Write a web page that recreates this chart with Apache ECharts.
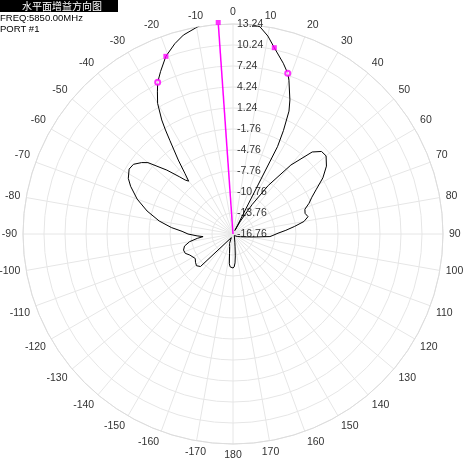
<!DOCTYPE html>
<html>
<head>
<meta charset="utf-8">
<script src="https://cdn.jsdelivr.net/npm/echarts@6/dist/echarts.min.js"></script>
<style>
  html, body { margin: 0; padding: 0; background: #fff; }
  #main { width: 467px; height: 467px; }
</style>
</head>
<body>
<div id="main"></div>
<script>
// radial axis: centre is -16.76 dB, rings every 3 dB up to 13.24
const R_MIN = -16.76;
const R_STEP = 3;
const R_COUNT = 10;

// measured pattern, angle in degrees (0 = top, clockwise), gain in dB
const angles = [
  -180, -178, -175, -173, -170, -165, -160, -155, -150, -145, -140, -137,
  -135, -134, -131, -127, -123, -120, -116, -112, -108, -104, -100, -97,
  -95, -93, -90, -87, -84, -80, -75, -70, -65, -62, -58, -55, -52, -50,
  -46, -43, -41.5, -40, -38.5, -36.5, -34, -33, -32, -30, -28, -26.4, -24,
  -20.7, -17, -14, -9, -4, 0, 4, 7.4, 10, 12.5, 16.4, 18.8, 20, 23, 24.5,
  26, 27, 28, 30, 33, 36, 40, 44, 47, 50, 54, 58, 62, 65, 68, 71, 74, 77,
  80, 83, 86, 89, 92, 94, 97, 100, 105, 110, 115, 120, 130, 140, 150, 160,
  168, 171, 174, 176, 178, 180
];
const gains = [
  -11.90, -11.76, -12.05, -12.47, -13.90, -14.90, -15.33, -16.19, -16.47, -16.47, -16.33, -16.19,
  -10.19, -10.19, -9.85, -10.05, -10.33, -10.26, -9.90, -9.40, -9.33, -9.62, -10.47, -11.62,
  -12.47, -11.62, -10.33, -9.47, -7.90, -6.05, -4.05, -2.19, -0.62, 0.18, 0.74, 0.60, -0.19, -0.90,
  -3.62, -5.62, -6.47, -6.90, -5.76, -3.62, -0.62, 0.95, 2.45, 4.78, 6.24, 7.44, 8.67,
  10.37, 11.67, 12.53, 13.41, 13.53, 13.45, 13.38, 13.10, 11.95, 10.50, 8.67, 7.50, 6.61, 4.04, 2.53,
  -0.33, -2.76, -16.19, -14.62, -11.76, -8.19, -3.90, -0.47, 0.53, 0.60, -0.26, -1.62, -3.33, -4.33, -5.05, -5.90, -6.05, -5.76,
  -6.47, -7.90, -9.19, -10.33, -11.05, -11.47, -13.33, -14.33, -15.19, -15.62, -15.76, -16.05, -16.33, -16.47, -16.47, -16.33,
  -15.47, -14.90, -13.62, -12.62, -12.05, -11.90
];

const peakAngle = -4;
const peakGain = 13.53;
const halfPowerAngles = [-20.7, 12.5];
const halfPowerGains = [10.37, 10.50];
const sixDbAngles = [-26.4, 18.8];
const sixDbGains = [7.44, 7.50];

const toAxisAngle = a => (a < 0 ? a + 360 : a);
const pt = (g, a) => [g - R_MIN, toAxisAngle(a)];

const chart = echarts.init(document.getElementById('main'));
const labelFont = { fontFamily: 'Liberation Sans, Arial, sans-serif', fontSize: 10.5, color: '#333' };

chart.setOption({
  animation: false,
  polar: { center: [233, 234], radius: 210 },
  angleAxis: {
    type: 'value',
    min: 0,
    max: 360,
    interval: 10,
    startAngle: 90,
    clockwise: true,
    axisLine: { show: true, lineStyle: { color: '#dcdcdc', width: 1 } },
    axisTick: { show: false },
    splitLine: { show: true, lineStyle: { color: '#e6e6e6', width: 1 } },
    axisLabel: Object.assign({
      margin: 6,
      formatter: v => String(v > 180 ? v - 360 : v)
    }, labelFont)
  },
  radiusAxis: {
    type: 'value',
    min: 0,
    max: R_STEP * R_COUNT,
    interval: R_STEP,
    axisLine: { show: false },
    axisTick: { show: false },
    splitLine: { show: true, lineStyle: { color: '#e6e6e6', width: 1 } },
    axisLabel: Object.assign({
      margin: -4,
      align: 'left',
      verticalAlign: 'middle',
      formatter: v => (v + R_MIN).toFixed(2)
    }, labelFont)
  },
  graphic: [
    { type: 'rect', left: 0, top: 0, shape: { width: 118, height: 12 }, style: { fill: '#000' } },
    { type: 'text', x: 62, y: 6, style: { text: '水平面增益方向图', fill: '#fff', font: '10px "Noto Sans CJK SC"', align: 'center', verticalAlign: 'middle' } },
    { type: 'text', x: 0, y: 18, style: { text: 'FREQ:5850.00MHz', fill: '#000', font: '9.5px "Liberation Sans", Arial', verticalAlign: 'middle' } },
    { type: 'text', x: 0, y: 29, style: { text: 'PORT #1', fill: '#000', font: '9.5px "Liberation Sans", Arial', verticalAlign: 'middle' } }
  ],
  series: [
    {
      type: 'line',
      coordinateSystem: 'polar',
      data: angles.map((a, i) => pt(gains[i], a)),
      showSymbol: false,
      clip: false,
      silent: true,
      lineStyle: { color: '#000', width: 1 },
      z: 3
    },
    {
      type: 'line',
      coordinateSystem: 'polar',
      data: [pt(R_MIN, peakAngle), pt(peakGain, peakAngle)],
      showSymbol: false,
      clip: false,
      silent: true,
      lineStyle: { color: '#ff00ff', width: 1.5 },
      z: 4
    },
    {
      type: 'scatter',
      coordinateSystem: 'polar',
      data: [pt(peakGain, peakAngle)].concat(halfPowerAngles.map((a, i) => pt(halfPowerGains[i], a))),
      symbol: 'rect',
      symbolSize: 5,
      clip: false,
      silent: true,
      itemStyle: { color: '#ff00ff' },
      z: 5
    },
    {
      type: 'scatter',
      coordinateSystem: 'polar',
      data: sixDbAngles.map((a, i) => pt(sixDbGains[i], a)),
      symbol: 'emptyCircle',
      symbolSize: 5,
      clip: false,
      silent: true,
      itemStyle: { color: '#ff00ff', borderWidth: 1 },
      z: 5
    }
  ]
});
</script>
</body>
</html>
